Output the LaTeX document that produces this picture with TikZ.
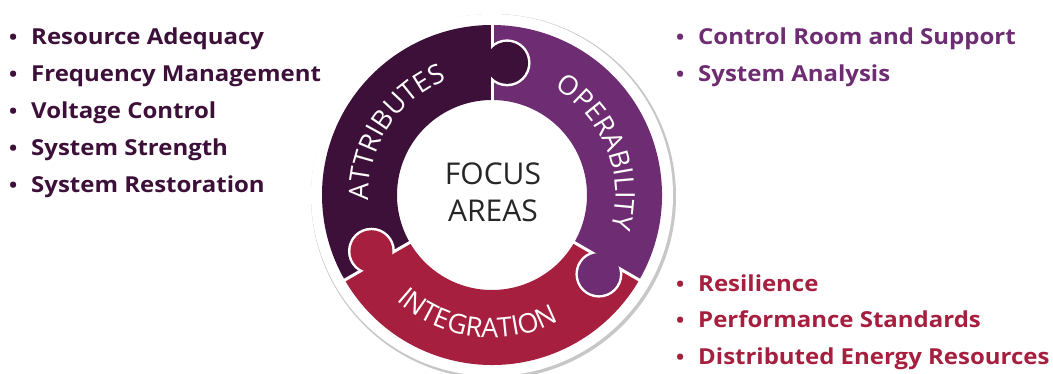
\documentclass[tikz,border=0pt]{standalone}
\usepackage{fontspec}
\setmainfont{Open Sans}
\newfontfamily\semibold{Open Sans}[FakeStretch=1.09]
\usepackage{xcolor}
\usepackage{tikz}
\usetikzlibrary{decorations.text}

\definecolor{attrcol}{HTML}{3C1039}
\definecolor{opercol}{HTML}{6E2C72}
\definecolor{integcol}{HTML}{A61F3E}
\definecolor{focusgray}{HTML}{262626}

% one third of the ring, from angle #1 to angle #2
\newcommand{\ringpart}[2]{(#1:170) arc[start angle=#1,end angle=#2,radius=170pt] -- (#2:95) arc[start angle=#2,end angle=#1,radius=95pt] -- cycle}
\newcommand{\dotmark}{\llap{{\fontsize{20}{20}\selectfont•}\hspace{14pt}}}

\begin{document}
\begin{tikzpicture}[x=1pt,y=1pt,
  item/.style={anchor=base west, inner sep=0pt, font=\semibold\bfseries\fontsize{22}{26}\selectfont},
  ringtext/.style={decorate, decoration={text along path, text align=center, text color=white}}]
\useasboundingbox (0,0) rectangle (1053,374);
% left list
\node[item, text=attrcol] (adequacy) at (31,329) {\dotmark Resource Adequacy};
\node[item, text=attrcol] (frequency) at (31,292.2) {\dotmark Frequency Management};
\node[item, text=attrcol] (voltage) at (31,255.4) {\dotmark Voltage Control};
\node[item, text=attrcol] (strength) at (31,218.6) {\dotmark System Strength};
\node[item, text=attrcol] (restoration) at (31,181.8) {\dotmark System Restoration};
% right lists
\node[item, text=opercol] (controlroom) at (698,329) {\dotmark Control Room and Support};
\node[item, text=opercol] (analysis) at (698,292) {\dotmark System Analysis};
\node[item, text=integcol] (resilience) at (698,82.3) {\dotmark Resilience};
\node[item, text=integcol] (standards) at (698,46) {\dotmark Performance Standards};
\node[item, text=integcol] (der) at (698,9.5) {\dotmark Distributed Energy Resources};

\begin{scope}[shift={(492,179)}]
  \fill[black!22] (1.5,-1.5) circle (182.5pt);
  \fill[white] (0,0) circle (181pt);
  \fill[attrcol] \ringpart{90}{210};
  \fill[integcol] \ringpart{210}{330};
  \fill[opercol] \ringpart{-30}{90};
  \draw[white, line width=3pt] (90:93) -- (90:172);
  \draw[white, line width=3pt] (210:93) -- (210:172);
  \draw[white, line width=3pt] (330:93) -- (330:172);
  % knobs
  \begin{scope}
    \clip \ringpart{-30}{90};
    \fill[white] (83.5:133) circle (23.5pt);
  \end{scope}
  \fill[attrcol] (83.5:133) circle (21pt);
  \begin{scope}
    \clip \ringpart{90}{210};
    \fill[white] (205:133) circle (23.5pt);
  \end{scope}
  \fill[integcol] (205:133) circle (21pt);
  \begin{scope}
    \clip \ringpart{210}{330};
    \fill[white] (-36.5:133) circle (23.5pt);
  \end{scope}
  \fill[opercol] (-36.5:133) circle (21pt);
  % ring labels
  \path[ringtext, decoration={text={|\fontsize{27}{27}\selectfont|ATTRIBUTES}}]
    (207:123.5) arc[start angle=207,end angle=87,radius=123.5pt];
  \path[ringtext, decoration={text={|\fontsize{27}{27}\selectfont|OPERABILITY}}]
    (82:123.5) arc[start angle=82,end angle=-38,radius=123.5pt];
  \path[ringtext, decoration={text={|\fontsize{27}{27}\selectfont|INTEGRATION}}]
    (203:142.5) arc[start angle=203,end angle=323,radius=142.5pt];
\end{scope}
% centre
\node[inner sep=0pt, anchor=base, text=focusgray, font=\fontsize{30}{30}\selectfont] (focus) at (493,189) {FOCUS};
\node[inner sep=0pt, anchor=base, text=focusgray, font=\fontsize{30}{30}\selectfont] (areas) at (493,152.3) {AREAS};
\end{tikzpicture}
\end{document}
